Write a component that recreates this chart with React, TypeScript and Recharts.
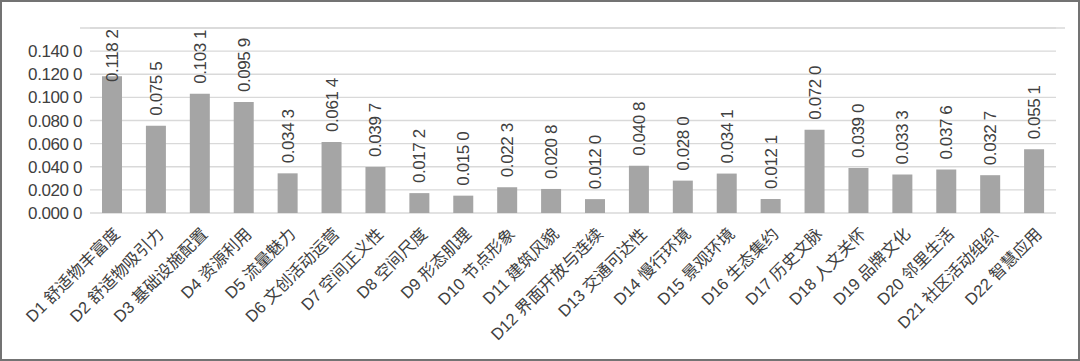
import React from 'react';
import { BarChart, Bar, XAxis, YAxis, CartesianGrid, ReferenceLine } from 'recharts';

const categories: string[] = [
  'D1 舒适物丰富度', 'D2 舒适物吸引力', 'D3 基础设施配置', 'D4 资源利用', 'D5 流量魅力',
  'D6 文创活动运营', 'D7 空间正义性', 'D8 空间尺度', 'D9 形态肌理', 'D10 节点形象',
  'D11 建筑风貌', 'D12 界面开放与连续', 'D13 交通可达性', 'D14 慢行环境', 'D15 景观环境',
  'D16 生态集约', 'D17 历史文脉', 'D18 人文关怀', 'D19 品牌文化', 'D20 邻里生活',
  'D21 社区活动组织', 'D22 智慧应用',
];
const weights: number[] = [
  0.1182, 0.0755, 0.1031, 0.0959, 0.0343, 0.0614, 0.0397, 0.0172, 0.015, 0.0223,
  0.0208, 0.012, 0.0408, 0.028, 0.0341, 0.0121, 0.072, 0.039, 0.0333, 0.0376,
  0.0327, 0.0551,
];
const yTicks: number[] = [0, 0.02, 0.04, 0.06, 0.08, 0.1, 0.12, 0.14, 0.16];
const yLabelMax = 0.14;

const data = categories.map((name, i) => ({ name, value: weights[i] }));

const FONT = '"Liberation Sans", Arial, "Noto Sans CJK SC", sans-serif';
const TEXT = '#404040';
const BAR = '#a5a5a5';
const GRID = '#d9d9d9';
const TOP = 28;

const fmt = (v: number) => {
  const s = v.toFixed(4);
  return s.slice(0, 5) + ' ' + s.slice(5);
};

const YTick = (props: any) => {
  const { x, y, payload } = props;
  if (payload.value > yLabelMax + 1e-9) return null;
  return (
    <text x={x} y={y} dy={6} textAnchor="end" fontSize={17} letterSpacing={-0.4} fill={TEXT} fontFamily={FONT}>
      {fmt(payload.value)}
    </text>
  );
};

const XTick = (props: any) => {
  const { x, y, payload } = props;
  return (
    <g transform={`translate(${x + 9},${y + 14})`}>
      <text x={0} y={0} textAnchor="end" transform="rotate(-45)" fontSize={16.5} fill={TEXT} fontFamily={FONT}>
        {payload.value}
      </text>
    </g>
  );
};

const ValueLabel = (props: any) => {
  const { x, y, width, value } = props;
  const cx = x + width / 2;
  const sy = Math.max(y - 10, TOP + 54);
  return (
    <g transform={`translate(${cx + 6},${sy})`}>
      <text x={0} y={0} textAnchor="start" transform="rotate(-90)" fontSize={17} letterSpacing={-0.4} fill={TEXT} fontFamily={FONT}>
        {fmt(value)}
      </text>
    </g>
  );
};

export default function App() {
  return (
    <div
      style={{
        position: 'absolute', left: 0, top: 0, width: 1080, height: 361,
        boxSizing: 'border-box', border: '2px solid #737373', background: '#fff',
      }}
    >
      <div style={{ position: 'absolute', left: -2, top: -2 }}>
        <BarChart width={1080} height={361} data={data} margin={{ top: TOP, right: 24, left: 0, bottom: 0 }}>
          <CartesianGrid vertical={false} stroke={GRID} strokeWidth={1.3} />
          <ReferenceLine
            y={0.16}
            stroke={GRID}
            shape={(p: any) => (
              <line x1={p.x1 - 10} x2={p.x2 + 9} y1={p.y1} y2={p.y2} stroke={GRID} strokeWidth={1.3} />
            )}
          />
          <XAxis dataKey="name" interval={0} height={148} tickLine={false} axisLine={false} tick={<XTick />} />
          <YAxis
            width={90}
            domain={[0, 0.16]}
            ticks={yTicks}
            tickLine={false}
            axisLine={false}
            tick={<YTick />}
            interval={0}
          />
          <Bar dataKey="value" fill={BAR} barSize={20} isAnimationActive={false} label={<ValueLabel />} />
        </BarChart>
      </div>
    </div>
  );
}
